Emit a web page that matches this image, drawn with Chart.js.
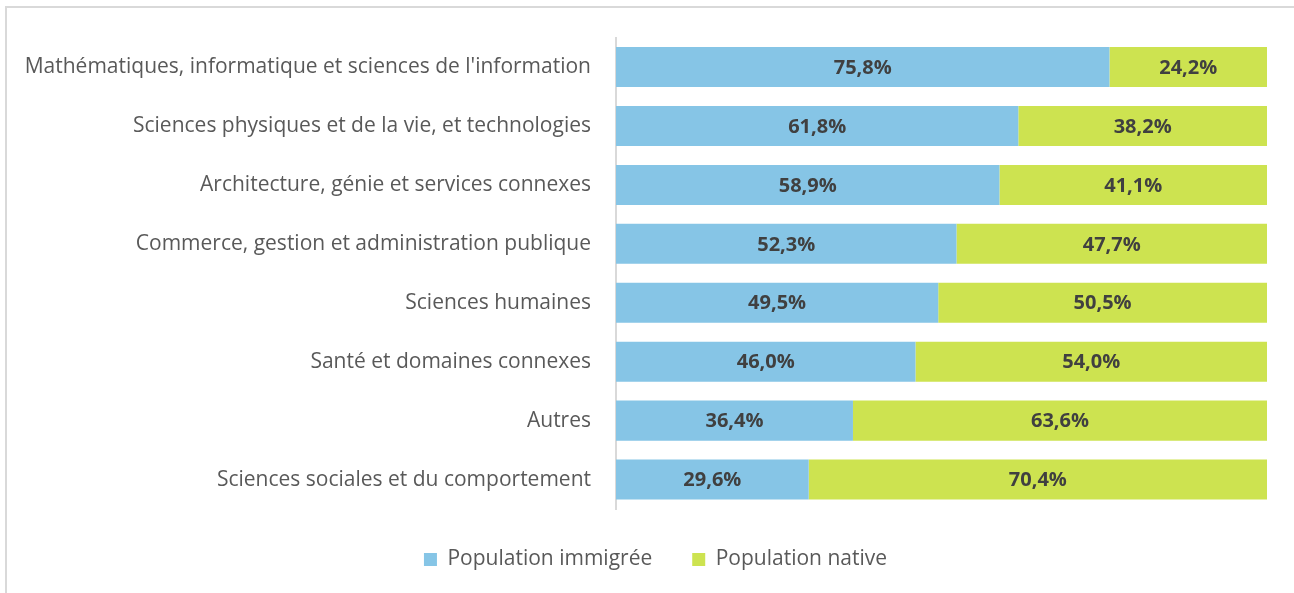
<!DOCTYPE html>
<html>
<head>
<meta charset="utf-8">
<script src="https://cdn.jsdelivr.net/npm/chart.js@4.4.0/dist/chart.umd.min.js"></script>
<style>
  html, body { margin: 0; padding: 0; background: #fff; }
  .frame { position: absolute; left: 5px; top: 6px; width: 2000px; height: 2000px;
           border-top: 2px solid #d9d9d9; border-left: 2px solid #d9d9d9; }
  .wrap { position: absolute; left: 0; top: 0; width: 1294px; height: 593px; }
</style>
</head>
<body>
<div class="frame"></div>
<div class="wrap"><canvas id="myChart" width="1294" height="593"></canvas></div>
<script>
const categories = [
  "Mathématiques, informatique et sciences de l'information",
  'Sciences physiques et de la vie, et technologies',
  'Architecture, génie et services connexes',
  'Commerce, gestion et administration publique',
  'Sciences humaines',
  'Santé et domaines connexes',
  'Autres',
  'Sciences sociales et du comportement',
];
const immigree = [75.8, 61.8, 58.9, 52.3, 49.5, 46.0, 36.4, 29.6];
const native = [24.2, 38.2, 41.1, 47.7, 50.5, 54.0, 63.6, 70.4];

const fmt = function (v) {
  return v.toFixed(1).replace('.', ',') + '%';
};

// draws the value in the middle of each bar segment
const barLabels = {
  id: 'barLabels',
  afterLayout(chart) {
    // long category names go past the left padding, don't clip them
    chart.scales.y.left = 0;
  },
  afterDatasetsDraw(chart) {
    const ctx = chart.ctx;
    ctx.save();
    ctx.font = 'bold 20px "Open Sans"';
    ctx.fillStyle = '#404040';
    ctx.textAlign = 'center';
    ctx.textBaseline = 'middle';
    chart.data.datasets.forEach(function (ds, i) {
      chart.getDatasetMeta(i).data.forEach(function (bar, j) {
        const x = (bar.x + bar.base) / 2;
        ctx.fillText(fmt(ds.data[j]), x, bar.y + 1);
      });
    });
    ctx.restore();
  },
};

const init = function () {
  const ctx = document.getElementById('myChart').getContext('2d');
  new Chart(ctx, {
    type: 'bar',
    data: {
      labels: categories,
      datasets: [
        { label: 'Population immigrée', data: immigree, backgroundColor: '#86c5e6', borderWidth: 0 },
        { label: 'Population native', data: native, backgroundColor: '#cde350', borderWidth: 0 },
      ],
    },
    options: {
      indexAxis: 'y',
      responsive: false,
      animation: false,
      maintainAspectRatio: false,
      layout: { padding: { left: 44, right: 27, top: 36, bottom: 13 } },
      datasets: { bar: { barPercentage: 0.68, categoryPercentage: 1 } },
      scales: {
        x: { stacked: true, min: 0, max: 100, display: false },
        y: {
          stacked: true,
          grid: { display: false, drawTicks: false },
          border: { display: true, color: '#d9d9d9', width: 2 },
          ticks: { color: '#595959', font: { family: 'Open Sans', size: 21 }, padding: 25 },
          afterFit: function (scale) { scale.width = 572; },
        },
      },
      plugins: {
        tooltip: { enabled: false },
        legend: {
          position: 'bottom',
          labels: {
            color: '#595959',
            font: { family: 'Open Sans', size: 21 },
            boxWidth: 13,
            boxHeight: 13,
            padding: 40,
          },
        },
      },
    },
    plugins: [barLabels],
  });
};

document.addEventListener('DOMContentLoaded', init);
</script>
</body>
</html>
